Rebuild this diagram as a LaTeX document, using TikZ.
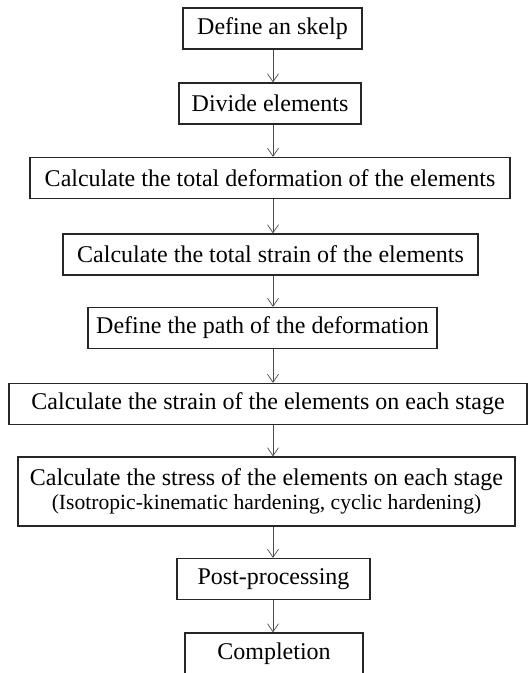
\documentclass[tikz,border=0pt]{standalone}
\usepackage{fontspec}
\setmainfont{Liberation Serif}
\usetikzlibrary{arrows.meta}

\begin{document}
\begin{tikzpicture}[x=1pt,y=1pt,
  box/.style={draw=black!85, line width=1.3pt, inner sep=0pt, minimum height=41pt, align=center, font=\fontsize{24}{27}\selectfont},
  link/.style={->, draw=black!70, line width=0.7pt},
  >={Straight Barb[length=8pt,width=11pt]}]
\useasboundingbox (0,0) rectangle (529,673);
\coordinate (ax) at (273,0);

\node[box, minimum width=179pt] (a) at (272.5,644.5) {Define an skelp};
\node[box, minimum width=182pt] (b) at (270,569.5) {Divide elements};
\node[box, minimum width=480pt] (c) at (270,495) {Calculate the total deformation of the elements};
\node[box, minimum width=415pt] (d) at (270.5,418.5) {Calculate the total strain of the elements};
\node[box, minimum width=349pt] (e) at (262.5,345) {Define the path of the deformation};
\node[box, minimum width=518pt] (f) at (268,269) {Calculate the strain of the elements on each stage};
\node[box, minimum width=497pt, minimum height=69pt] (g) at (266.5,181.5) {Calculate the stress of the elements on each stage\\[-3pt]
  {\fontsize{21.6}{24}\selectfont (Isotropic-kinematic hardening, cyclic hardening)}};
\node[box, minimum width=193pt] (h) at (273.5,94) {Post-processing};
\node[box, minimum width=178pt] (i) at (274,19.5) {Completion};

\draw[link] (a.south -| ax) -- (b.north -| ax);
\draw[link] (b.south -| ax) -- (c.north -| ax);
\draw[link] (c.south -| ax) -- (d.north -| ax);
\draw[link] (d.south -| ax) -- (e.north -| ax);
\draw[link] (e.south -| ax) -- (f.north -| ax);
\draw[link] (f.south -| ax) -- (g.north -| ax);
\draw[link] (g.south -| ax) -- (h.north -| ax);
\draw[link] (h.south -| ax) -- (i.north -| ax);
\end{tikzpicture}
\end{document}
